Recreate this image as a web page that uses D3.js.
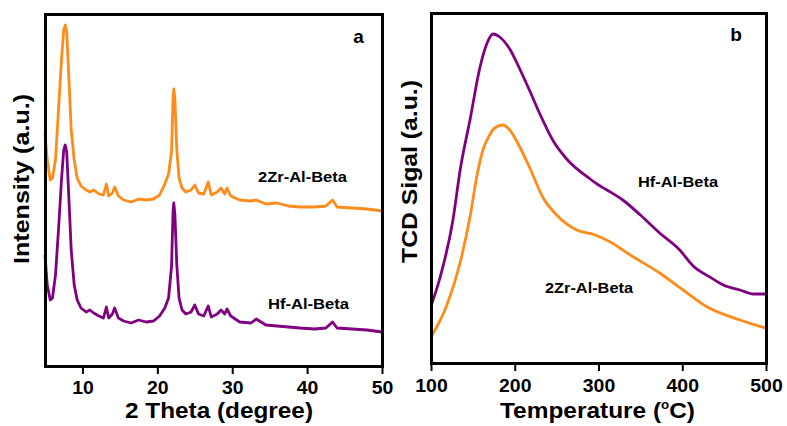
<!DOCTYPE html>
<html>
<head>
<meta charset="utf-8">
<script src="https://cdn.jsdelivr.net/npm/d3@7"></script>
</head>
<body style="margin:0">
<div id="chart" style="position:relative;width:787px;height:426px;">
<svg width="787" height="426" style="position:absolute;left:0;top:0"></svg>
</div>
<script>
// (a) XRD patterns
const twoTheta = [5.0,5.3,5.7,6.0,6.4,6.8,7.2,7.5,7.7,7.9,8.2,8.5,8.9,9.3,9.8,10.5,11.0,11.5,12.2,12.8,
  13.2,13.5,14.0,14.3,14.8,15.5,16.5,17.5,18.5,19.5,20.3,21.0,21.5,21.9,22.1,22.2,22.35,22.6,22.9,23.3,
  23.8,24.5,25.0,25.5,26.2,26.8,27.2,28.0,28.5,29.0,29.3,29.8,31.0,32.5,33.2,34.5,36.0,37.5,39.0,41.0,
  42.5,43.4,44.0,46.0,48.0,50.0];
const xrdZr = [233,206,186,188,206,256,306,336,341,334,286,236,206,188,180,176,174,176,172,171,
  182,170,173,179,170,166,164,167,166,167,171,182,192,215,268,277,266,216,188,178,
  174,176,181,173,172,184,171,174,178,172,178,170,166,165,166,162,163,160,159,159,
  160,166,159,158,157,155];
const xrdHf = [111,81,66,68,91,136,186,216,221,214,166,116,81,66,58,54,56,53,50,48,
  59,48,52,58,48,45,43,46,44,45,50,58,68,100,155,163,151,101,68,56,
  52,54,61,52,50,60,49,52,56,52,57,50,44,43,47,41,40,39,38,37,
  38,44,38,37,36,34];
const xTicksA = [10, 20, 30, 40, 50];

// (b) NH3-TPD profiles
const tempHf = [100,111,126,135,147,158,167,174,182,194,206,218,230,246,262,290,300,310,329,350,373,397,413,433,449,469,485,500];
const tpdHf  = [57,86,142,194,245,294,320,329,326,314,294,272,249,222,204,184,178,173,163,148,130,113,97,86,78,73,69,69];
const tempZr = [100,119,135,147,155,162,170,176,186,194,206,218,234,250,274,296,314,338,373,401,430,469,499];
const tpdZr  = [26,58,101,148,188,213,228,235,238,233,216,195,165,148,133,128,121,108,90,73,56,43,35];
const xTicksB = [100, 200, 300, 400, 500];

const orange = "#FF8C1A", purple = "#800080";
const font = "Liberation Sans, Arial, sans-serif";
const svg = d3.select("svg");

function makePanel(box, xDomain, yMax, ticks, tickY) {
  const x = d3.scaleLinear().domain(xDomain).range([box.x0, box.x1]);
  const y = d3.scaleLinear().domain([0, yMax]).range([box.y1, box.y0]);

  // frame: an html box laid over the svg, sized from the scale ranges
  d3.select("#chart").append("div")
      .style("position", "absolute")
      .style("box-sizing", "border-box")
      .style("left", (x.range()[0] - 1.5) + "px")
      .style("top", (y.range()[1] - 1.5) + "px")
      .style("width", (x.range()[1] - x.range()[0] + 3) + "px")
      .style("height", (y.range()[0] - y.range()[1] + 3) + "px")
      .style("border", "3px solid black")
      .style("pointer-events", "none");

  const bottom = svg.append("g")
      .attr("transform", `translate(0,${box.y1})`)
      .call(d3.axisBottom(x).tickValues(ticks).tickSize(8).tickSizeOuter(0).tickFormat(d3.format("d")));
  bottom.attr("font-family", font).attr("font-weight", "bold").attr("font-size", 17.5);
  bottom.select(".domain").attr("stroke", "black").attr("stroke-width", 3);
  bottom.selectAll(".tick line").attr("stroke", "black").attr("stroke-width", 2);
  bottom.selectAll(".tick text")
      .attr("fill", "black")
      .attr("y", tickY).attr("dy", 0)
      .attr("textLength", d => String(d).length * 10.8)
      .attr("lengthAdjust", "spacingAndGlyphs");
  return {x, y};
}

function addLine(p, xs, ys, color, curve) {
  svg.append("path")
      .datum(xs.map((v, i) => [v, ys[i]]))
      .attr("fill", "none")
      .attr("stroke", color)
      .attr("stroke-width", 2.8)
      .attr("stroke-linejoin", "round")
      .attr("d", d3.line().x(d => p.x(d[0])).y(d => p.y(d[1])).curve(curve));
}

function label(txt, cx, by, size, len) {
  const t = svg.append("text")
      .attr("x", cx).attr("y", by)
      .attr("text-anchor", "middle")
      .attr("font-family", font).attr("font-weight", "bold")
      .attr("font-size", size)
      .text(txt);
  if (len) t.attr("textLength", len).attr("lengthAdjust", "spacingAndGlyphs");
  return t;
}

function vlabel(txt, bx, cy, size, len) {
  svg.append("text")
      .attr("transform", `translate(${bx},${cy}) rotate(-90)`)
      .attr("text-anchor", "middle")
      .attr("font-family", font).attr("font-weight", "bold")
      .attr("font-size", size)
      .attr("textLength", len).attr("lengthAdjust", "spacingAndGlyphs")
      .text(txt);
}

// panel a
const boxA = {x0: 45, x1: 382, y0: 14, y1: 366};
const pa = makePanel(boxA, [5, 50], 352, xTicksA, 28);
addLine(pa, twoTheta, xrdZr, orange, d3.curveLinear);
addLine(pa, twoTheta, xrdHf, purple, d3.curveLinear);
label("a", 358.5, 42.5, 19);
label("2Zr-Al-Beta", 302.5, 182, 14, 89);
label("Hf-Al-Beta", 308.5, 309, 14, 81);
label("2 Theta (degree)", 219, 418, 22, 188);
vlabel("Intensity (a.u.)", 28.5, 179, 22, 170);

// panel b
const boxB = {x0: 431, x1: 766, y0: 13.5, y1: 363};
const pb = makePanel(boxB, [100, 500], 349.5, xTicksB, 29);
addLine(pb, tempHf, tpdHf, purple, d3.curveMonotoneX);
addLine(pb, tempZr, tpdZr, orange, d3.curveMonotoneX);
label("b", 736, 40.5, 19);
label("Hf-Al-Beta", 678, 187, 14, 80);
label("2Zr-Al-Beta", 589, 293, 14, 88);
vlabel("TCD Sigal (a.u.)", 417, 171.5, 22, 183);

const tt = svg.append("text")
    .attr("x", 500).attr("y", 418)
    .attr("font-family", font).attr("font-weight", "bold")
    .attr("font-size", 22);
tt.append("tspan").text("Temperature (");
tt.append("tspan").attr("dy", -9).attr("font-size", 12).text("o");
tt.append("tspan").attr("dy", 9).text("C)");
tt.attr("textLength", 195).attr("lengthAdjust", "spacingAndGlyphs");
</script>
</body>
</html>
